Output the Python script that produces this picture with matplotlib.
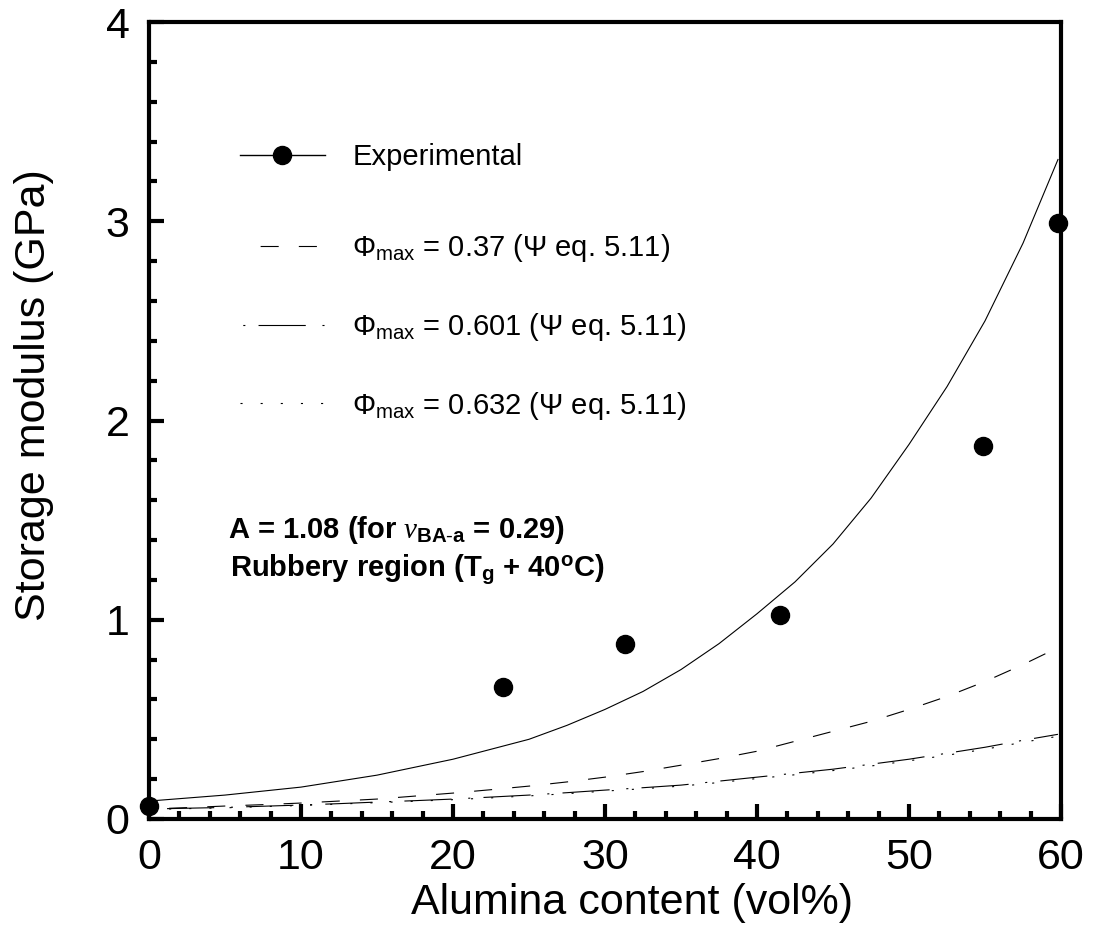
import numpy as np
import matplotlib.pyplot as plt
from matplotlib.lines import Line2D
from matplotlib.ticker import MultipleLocator

plt.rcParams['font.family'] = ['Liberation Sans', 'DejaVu Sans']
plt.rcParams['mathtext.fontset'] = 'custom'
plt.rcParams['mathtext.rm'] = 'Liberation Sans'
plt.rcParams['mathtext.it'] = 'Liberation Serif:italic'
plt.rcParams['mathtext.bf'] = 'Liberation Sans:bold'
plt.rcParams['lines.scale_dashes'] = False

# dados experimentais
exp_x = [0, 23.3, 31.3, 41.5, 54.9, 59.8]
exp_y = [0.065, 0.66, 0.88, 1.025, 1.87, 2.99]

# curvas dos modelos
model_x = [0, 2.5, 5, 7.5, 10, 12.5, 15, 17.5, 20, 22.5, 25, 27.5, 30,
           32.5, 35, 37.5, 40, 42.5, 45, 47.5, 50, 52.5, 55, 57.5, 59.8]
solid_y = [0.09, 0.105, 0.12, 0.14, 0.16, 0.19, 0.22, 0.26, 0.30, 0.35, 0.40, 0.47, 0.55,
           0.64, 0.75, 0.88, 1.03, 1.19, 1.38, 1.61, 1.88, 2.17, 2.50, 2.89, 3.31]
phi037_y = [0.05, 0.057, 0.065, 0.072, 0.08, 0.09, 0.10, 0.115, 0.13, 0.147, 0.165, 0.186, 0.21,
            0.238, 0.27, 0.303, 0.34, 0.39, 0.44, 0.49, 0.55, 0.615, 0.69, 0.775, 0.86]
phi0601_y = [0.05, 0.054, 0.058, 0.064, 0.07, 0.077, 0.085, 0.092, 0.10, 0.11, 0.12, 0.132, 0.145,
             0.157, 0.17, 0.19, 0.21, 0.23, 0.25, 0.275, 0.30, 0.33, 0.36, 0.395, 0.425]
phi0632_y = [0.048, 0.052, 0.056, 0.062, 0.068, 0.075, 0.082, 0.089, 0.097, 0.106, 0.116, 0.127, 0.14,
             0.152, 0.165, 0.183, 0.203, 0.222, 0.243, 0.266, 0.292, 0.32, 0.35, 0.385, 0.415]

labels = [r'Φ$_{\mathrm{max}}$ = 0.37 (Ψ eq. 5.11)',
          r'Φ$_{\mathrm{max}}$ = 0.601 (Ψ eq. 5.11)',
          r'Φ$_{\mathrm{max}}$ = 0.632 (Ψ eq. 5.11)']

fig = plt.figure(figsize=(10.97, 9.33), dpi=100)
ax = fig.add_axes([0.1358, 0.1222, 0.8314, 0.8542])

lw = 0.8
dash = (13, (13, 14.5))
dashdot = (44, (34, 12, 1.5, 9.5))
dotted = (0, (1.5, 13))

ax.plot(model_x, solid_y, color='k', lw=lw)
l1, = ax.plot(model_x, phi037_y, color='k', lw=lw, linestyle=dash)
l2, = ax.plot(model_x, phi0601_y, color='k', lw=lw, linestyle=dashdot)
l3, = ax.plot(model_x, phi0632_y, color='k', lw=lw, linestyle=dotted)
ax.plot(exp_x, exp_y, 'o', color='k', ms=13, clip_on=False, zorder=5)

ax.set_xlim(0, 60)
ax.set_ylim(0, 4)
ax.xaxis.set_major_locator(MultipleLocator(10))
ax.xaxis.set_minor_locator(MultipleLocator(2))
ax.yaxis.set_major_locator(MultipleLocator(1))
ax.yaxis.set_minor_locator(MultipleLocator(0.2))
ax.tick_params(which='both', direction='in', width=3, top=False, right=False)
ax.tick_params(which='major', length=11, labelsize=31, pad=14)
ax.tick_params(which='minor', length=5.5)
for s in ax.spines.values():
    s.set_linewidth(3)

ax.set_xlabel('Alumina content (vol%)', fontsize=31)
ax.set_ylabel('Storage modulus (GPa)', fontsize=31)
ax.xaxis.set_label_coords(0.5296, -0.0803)
ax.yaxis.set_label_coords(-0.104, 0.532)

# legendas
h_exp = Line2D([], [], color='k', lw=1, marker='o', ms=13)
leg1 = ax.legend([h_exp], ['Experimental'], loc='center left',
                 bbox_to_anchor=(240 / 1097, 1 - 157 / 933), bbox_transform=fig.transFigure,
                 frameon=False, fontsize=21, handlelength=2.9, handletextpad=0.95,
                 borderpad=0, borderaxespad=0)
ax.add_artist(leg1)
ax.legend([l1, l2, l3], labels, loc='center left',
          bbox_to_anchor=(240 / 1097, 1 - 327 / 933), bbox_transform=fig.transFigure,
          frameon=False, fontsize=21, handlelength=2.9, handletextpad=0.95,
          labelspacing=1.6, borderpad=0, borderaxespad=0)

ax.text(5.2, 1.41, r'A = 1.08 (for $\nu_{\mathbf{BA}\text{-}\mathbf{a}}$ = 0.29)',
        fontsize=21, fontweight='bold')
ax.text(5.3, 1.215, r'Rubbery region (T$_{\mathbf{g}}$ + 40$^{\mathbf{o}}$C)',
        fontsize=21, fontweight='bold')

fig.savefig('out.png', dpi=100)
